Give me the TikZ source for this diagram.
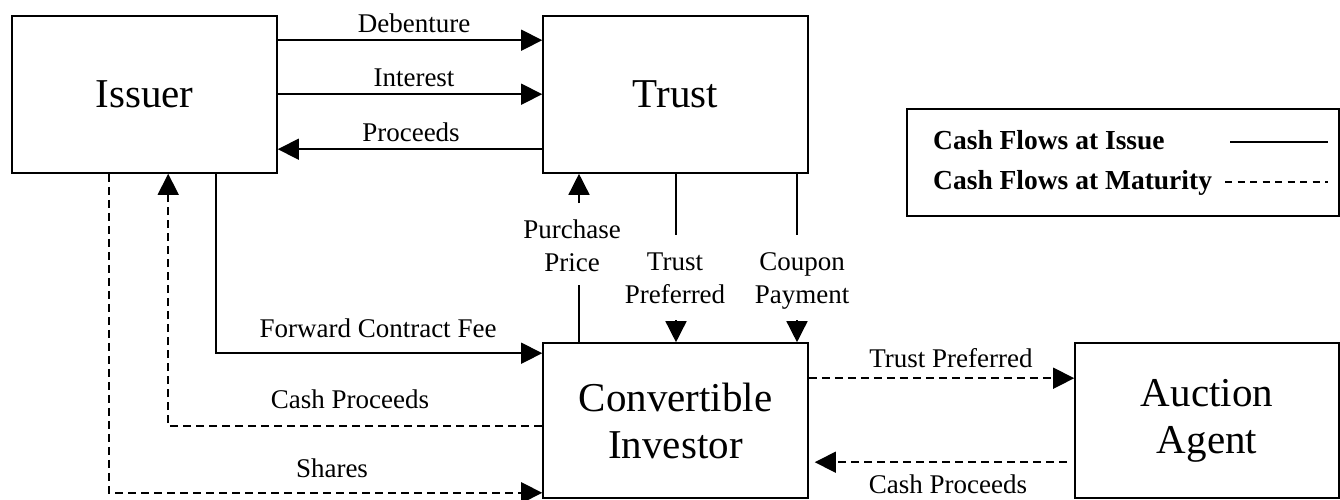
\documentclass[tikz,border=0pt]{standalone}
\usepackage{fontspec}
\setmainfont{Liberation Serif}
\usetikzlibrary{arrows.meta}
\tikzset{
  box/.style={draw, line width=1.6pt, inner sep=0pt, align=center, font=\fontsize{41}{47}\selectfont},
  lbl/.style={inner sep=0pt, anchor=base, align=center, font=\fontsize{27}{33}\selectfont},
  lgd/.style={inner sep=0pt, anchor=base west, font=\fontsize{27.5}{33}\selectfont\bfseries},
  conn/.style={line width=1.5pt},
  arr/.style={conn, -{Triangle[length=21pt,width=21pt]}},
  dsh/.style={dash pattern=on 8pt off 5pt}
}
\begin{document}
\begin{tikzpicture}[x=1pt,y=-1pt]
\useasboundingbox (0,0) rectangle (1340,500);
% boxes
\node[box, minimum width=265pt, minimum height=157pt] (issuer) at (144.5,94.5) {Issuer};
\node[box, minimum width=265pt, minimum height=157pt] (trust) at (675.5,94.5) {Trust};
\node[box, minimum width=265pt, minimum height=155pt] (conv) at (675.5,420.5) {Convertible\\Investor};
\node[box, minimum width=264pt, minimum height=155pt] (auction) at (1207,420.5) {Auction\\Agent};
\node[draw, line width=1.6pt, minimum width=432pt, minimum height=107pt, inner sep=0pt] (legend) at (1123,162.5) {};
% legend
\node[lgd] (lg1) at (933,149) {Cash Flows at Issue};
\node[lgd] (lg2) at (933,189) {Cash Flows at Maturity};
\coordinate (ls1) at (1230,142);
\coordinate (ls2) at (1328,142);
\coordinate (ld1) at (1225,182);
\coordinate (ld2) at (1328,182);
\draw[conn] (ls1) -- (ls2);
\draw[conn, dash pattern=on 7pt off 5.5pt] (ld1) -- (ld2);
% issuer <-> trust
\draw[arr] ([yshift=-25pt]issuer.north east) -- ([yshift=-25pt]trust.north west);
\draw[arr] ([yshift=-79pt]issuer.north east) -- ([yshift=-79pt]trust.north west);
\draw[arr] ([yshift=-134pt]trust.north west) -- ([yshift=-134pt]issuer.north east);
\node[lbl] (ldeb) at (414,33) {Debenture};
\node[lbl] (lint) at (414,87) {Interest};
\node[lbl] (lpro) at (411,142) {Proceeds};
% trust <-> convertible
\coordinate (pp1) at (579,285);
\coordinate (pp2) at (579,203);
\draw[conn] (conv.north -| pp1) -- (pp1);
\draw[arr] (pp2) -- (trust.south -| pp2);
\coordinate (tp1) at (676,235);
\coordinate (tp2) at (676,320);
\draw[conn] (trust.south -| tp1) -- (tp1);
\draw[arr] (tp2) -- (conv.north -| tp2);
\coordinate (cp1) at (797,235);
\coordinate (cp2) at (797,320);
\draw[conn] (trust.south -| cp1) -- (cp1);
\draw[arr] (cp2) -- (conv.north -| cp2);
\node[lbl] (lpp) at (572,271) {Purchase\\Price};
\node[lbl] (ltp) at (675,303) {Trust\\Preferred};
\node[lbl] (lcp) at (802,303) {Coupon\\Payment};
% issuer <-> convertible
\draw[arr] ([xshift=205pt]issuer.south west) |- ([yshift=-11pt]conv.north west);
\draw[arr, dsh] ([yshift=-84pt]conv.north west) -| ([xshift=157pt]issuer.south west);
\draw[arr, dsh] ([xshift=98pt]issuer.south west) |- ([yshift=6pt]conv.south west);
\node[lbl] (lfcf) at (378,337) {Forward Contract Fee};
\node[lbl] (lcash1) at (350,408) {Cash Proceeds};
\node[lbl] (lsh) at (332,477) {Shares};
% convertible <-> auction
\draw[arr, dsh] ([yshift=-36pt]conv.north east) -- ([yshift=-36pt]auction.north west);
\draw[arr, dsh] ([xshift=-7pt,yshift=-120pt]auction.north west) -- ([xshift=6pt,yshift=-120pt]conv.north east);
\node[lbl] (ltp2) at (951,367) {Trust Preferred};
\node[lbl] (lcash2) at (948,493) {Cash Proceeds};
\end{tikzpicture}
\end{document}
